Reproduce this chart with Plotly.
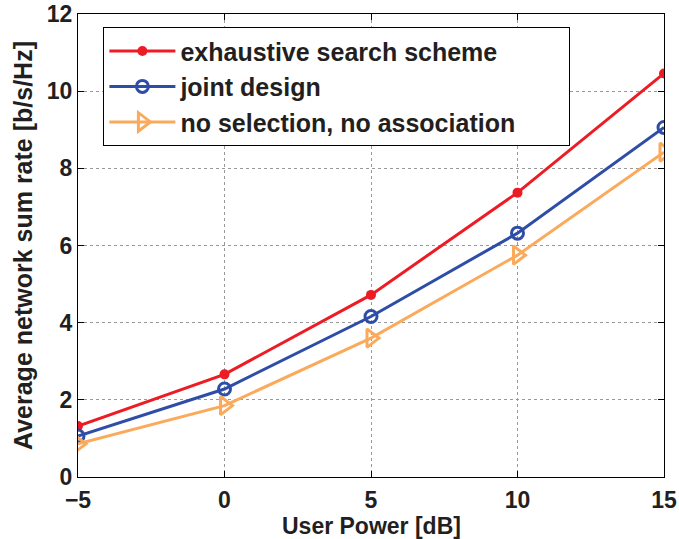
import plotly.graph_objects as go

# User power levels [dB]
power_db = [-5, 0, 5, 10, 15]

# Average network sum rate [b/s/Hz] for each scheme
exhaustive = [1.32, 2.66, 4.72, 7.37, 10.46]
joint = [1.06, 2.28, 4.16, 6.32, 9.06]
no_selection = [0.86, 1.85, 3.60, 5.75, 8.42]

x_ticks = [-5, 0, 5, 10, 15]
y_ticks = [0, 2, 4, 6, 8, 10, 12]

font_family = "Liberation Sans, Arial, sans-serif"
text_color = "#231F20"
# trailing padding so the legend frame extends past the longest entry
pad = "\u00a0" * 7

fig = go.Figure()
fig.add_trace(go.Scatter(
    x=power_db, y=exhaustive, mode="lines+markers",
    name="exhaustive search scheme",
    line=dict(color="#ED1C24", width=3),
    marker=dict(symbol="circle", size=10, color="#ED1C24"),
))
fig.add_trace(go.Scatter(
    x=power_db, y=joint, mode="lines+markers",
    name="joint design",
    line=dict(color="#2E4DA7", width=3),
    marker=dict(symbol="circle-open", size=12, color="#2E4DA7", line=dict(width=3)),
))
fig.add_trace(go.Scatter(
    x=power_db, y=no_selection, mode="lines+markers",
    name="no selection, no association" + pad,
    line=dict(color="#FBAA5C", width=3),
    marker=dict(symbol="triangle-right-open", size=16, color="#FBAA5C", line=dict(width=3)),
))

axis_common = dict(
    showline=True, linecolor="black", linewidth=1.2, mirror="ticks",
    ticks="inside", ticklen=6, tickcolor="black",
    showgrid=True, gridcolor="#999999", gridwidth=1, griddash="dot",
    zeroline=False, automargin=False,
    tickfont=dict(family=font_family, size=23, color=text_color, weight="bold"),
)
title_font = dict(family=font_family, size=25, color=text_color, weight="bold")
xtitle_font = dict(family=font_family, size=23, color=text_color, weight="bold")

fig.update_layout(
    width=679, height=539,
    margin=dict(l=78, r=15, t=14, b=62),
    paper_bgcolor="white", plot_bgcolor="white",
    showlegend=True,
    legend=dict(
        x=0.043, y=0.972, xanchor="left", yanchor="top",
        bgcolor="white", bordercolor="black", borderwidth=1.2,
        font=dict(family=font_family, size=25, color=text_color, weight="bold"),
        tracegroupgap=0, itemwidth=66,
    ),
    xaxis=dict(
        axis_common, range=[-5, 15], tickvals=x_ticks,
        ticktext=["\u22125", "0", "5", "10", "15"],
        ticklabelstandoff=2,
    ),
    yaxis=dict(
        axis_common, range=[0, 12], tickvals=y_ticks,
        title=dict(text="Average network sum rate [b/s/Hz]", standoff=6, font=title_font),
    ),
    annotations=[dict(
        text="User Power [dB]", xref="paper", yref="paper",
        x=0.5, y=-62 / 463, xanchor="center", yanchor="bottom", yshift=-1,
        showarrow=False, font=xtitle_font, borderpad=0,
    )],
)

fig.write_html("out.html")
